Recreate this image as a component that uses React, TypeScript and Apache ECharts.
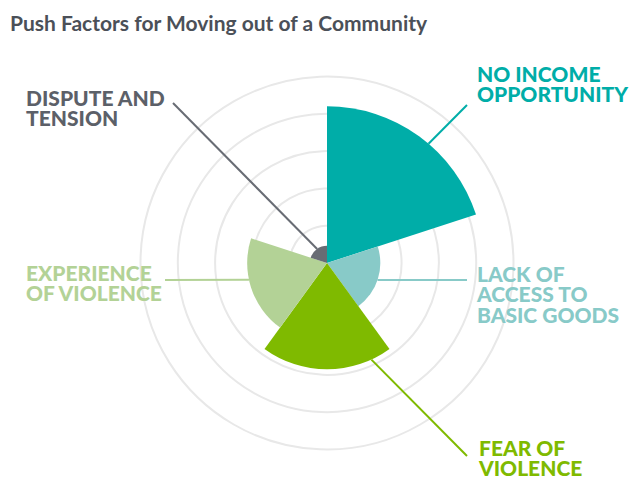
import React, { useEffect, useRef } from "react";
import * as echarts from "echarts";

// ---- data ----
const categories = [
  "NO INCOME\nOPPORTUNITY",
  "LACK OF\nACCESS TO\nBASIC GOODS",
  "FEAR OF\nVIOLENCE",
  "EXPERIENCE\nOF VIOLENCE",
  "DISPUTE AND\nTENSION",
];
// radial extent of each petal (ring = 10)
const values = [42, 14.3, 28.5, 21.4, 4.6];
const ringTicks = [0, 10, 20, 30, 40, 50];

// ---- styles / layout ----
const colors = ["#00ADA8", "#88CAC8", "#7FBA00", "#B3D296", "#686C74"];
const textColors = ["#00ADA8", "#88CAC8", "#7FBA00", "#B3D296", "#5C6068"];
// leader start angle (deg, clockwise from top), leader end px, label top-left px
const leaderAngles = [40.4, 108.6, 155.3, 257.8, 325];
const leaderEnds = [
  [467, 105],
  [467, 280],
  [467, 456],
  [165, 280],
  [173, 103],
];
const labelPos = [
  [477, 63],
  [477, 263],
  [479, 437],
  [26, 262],
  [26, 87],
];

export default function App() {
  const ref = useRef<HTMLDivElement>(null);
  useEffect(() => {
    document.body.style.margin = "0";
    const chart = echarts.init(ref.current!, null, { renderer: "svg" });
    const n = categories.length;
    const data = values.map((v, i) => [(i * 360) / n, ((i + 1) * 360) / n, v, i]);
    const toRad = (t: number) => ((t - 90) * Math.PI) / 180;
    chart.setOption({
      animation: false,
      backgroundColor: "#ffffff",
      title: {
        text: "Push Factors for Moving out of a Community",
        left: 10,
        top: 12,
        padding: 0,
        textStyle: {
          fontFamily: "Lato",
          fontWeight: "bold",
          fontSize: 21,
          color: "#4B5058",
        },
      },
      polar: { center: [327, 263], radius: 186.5 },
      radiusAxis: {
        type: "value",
        min: ringTicks[0],
        max: ringTicks[ringTicks.length - 1],
        interval: 10,
        axisLine: { show: false },
        axisTick: { show: false },
        axisLabel: { show: false },
        splitLine: { show: true, lineStyle: { color: "#E8E8E8", width: 2 } },
      },
      angleAxis: {
        type: "value",
        min: 0,
        max: 360,
        startAngle: 90,
        clockwise: true,
        axisLine: { show: false },
        axisTick: { show: false },
        axisLabel: { show: false },
        splitLine: { show: false },
      },
      series: [
        {
          type: "custom",
          coordinateSystem: "polar",
          encode: { radius: 2, angle: 0 },
          data,
          renderItem: (params: any, api: any) => {
            const i = params.dataIndex;
            const s = api.value(0);
            const e = api.value(1);
            const v = api.value(2);
            const cs = params.coordSys;
            const cx = cs.cx;
            const cy = cs.cy;
            const edge = api.coord([v, s]);
            const r = Math.hypot(edge[0] - cx, edge[1] - cy);
            const ls = api.coord([v, leaderAngles[i]]);
            return {
              type: "group",
              children: [
                {
                  type: "sector",
                  shape: {
                    cx,
                    cy,
                    r0: 0,
                    r,
                    startAngle: toRad(s),
                    endAngle: toRad(e),
                    clockwise: true,
                  },
                  style: { fill: colors[i] },
                },
                {
                  type: "line",
                  shape: {
                    x1: ls[0],
                    y1: ls[1],
                    x2: leaderEnds[i][0],
                    y2: leaderEnds[i][1],
                  },
                  style: { stroke: colors[i], lineWidth: 2 },
                },
                {
                  type: "text",
                  x: labelPos[i][0],
                  y: labelPos[i][1],
                  style: {
                    text: categories[i],
                    fill: textColors[i],
                    fontFamily: "Lato",
                    fontWeight: 900,
                    fontSize: 21,
                    lineHeight: 20.5,
                    verticalAlign: "top",
                    align: "left",
                  },
                },
              ],
            };
          },
        },
      ],
    });
    return () => chart.dispose();
  }, []);
  return <div ref={ref} style={{ width: 634, height: 477 }} />;
}
